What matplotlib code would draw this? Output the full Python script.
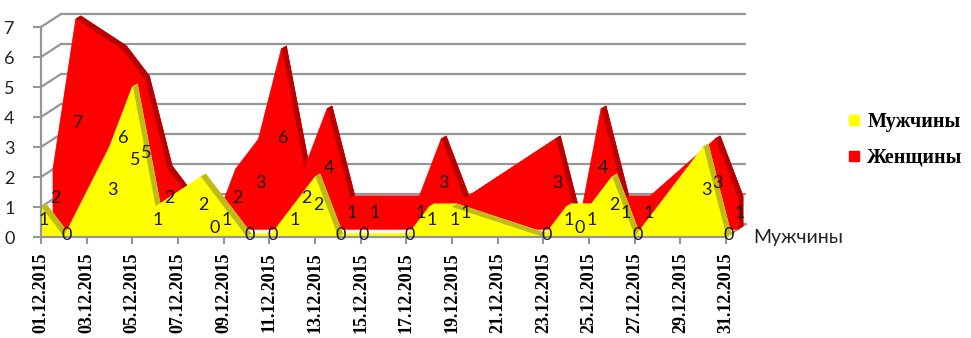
import matplotlib
matplotlib.use("Agg")
import matplotlib.pyplot as plt
from matplotlib.patches import Polygon
from matplotlib.lines import Line2D

# ---------------- data ----------------
dates = ["01.12.2015", "02.12.2015", "04.12.2015", "05.12.2015", "06.12.2015",
         "08.12.2015", "09.12.2015", "10.12.2015", "11.12.2015", "12.12.2015",
         "13.12.2015", "14.12.2015", "15.12.2015", "17.12.2015", "18.12.2015",
         "19.12.2015", "23.12.2015", "24.12.2015", "25.12.2015", "26.12.2015",
         "27.12.2015", "30.12.2015", "31.12.2015"]
men = [1, 0, 3, 5, 1, 2, 1, 0, 0, 1, 2, 0, 0, 0, 1, 1, 0, 1, 1, 2, 0, 3, 0]
women = [2, 7, 6, 5, 2, 0, 2, 3, 6, 2, 4, 1, 1, 1, 3, 1, 3, 0, 4, 1, 1, 3, 1]
tick_labels = ["01.12.2015", "03.12.2015", "05.12.2015", "07.12.2015",
               "09.12.2015", "11.12.2015", "13.12.2015", "15.12.2015",
               "17.12.2015", "19.12.2015", "21.12.2015", "23.12.2015",
               "25.12.2015", "27.12.2015", "29.12.2015", "31.12.2015"]
series_names = ["Мужчины", "Женщины"]
y_ticks = [0, 1, 2, 3, 4, 5, 6, 7]

days = [int(d[:2]) for d in dates]
tick_days = [int(t[:2]) for t in tick_labels]

# ---------------- layout ----------------
W, H = 971, 338
fig = plt.figure(figsize=(W / 100, H / 100), dpi=100)
AX_L, AX_R, AX_T, AX_B = 20, 770, 4, 246
X1_PX, XN_PX = 41, 726
Y0_PX, YTOP_PX = 237, 27
ax = fig.add_axes([AX_L / W, 1 - AX_B / H, (AX_R - AX_L) / W, (AX_B - AX_T) / H])
px_day = (XN_PX - X1_PX) / (days[-1] - days[0])
px_val = (Y0_PX - YTOP_PX) / y_ticks[-1]
ax.set_xlim(days[0] + (AX_L - X1_PX) / px_day, days[0] + (AX_R - X1_PX) / px_day)
ax.set_ylim((Y0_PX - AX_B) / px_val, (Y0_PX - AX_T) / px_val)


def off(p):
    """pixel offset (right, down) -> data offset"""
    return p[0] / px_day, -p[1] / px_val


GRID = "#969696"
YEL, OLIVE = "#FFFF00", "#BDBA1C"
RED, DRED = "#FF0000", "#B80000"

# depth planes (pixels)
Y_FRONT, Y_BACK, Y_CEN = (0, 0), (5, -3), (3, -2)
R_FRONT, R_BACK, R_CEN = (12, -8), (17, -11), (14, -9)
WALL = (20, -13)

# ---------------- walls / grid ----------------
wx, wy = off(WALL)
x0, x1 = days[0], days[-1]
for v in y_ticks:
    ax.plot([x0 + wx, x1 + wx], [v + wy, v + wy], color=GRID, lw=1.6, zorder=1,
            solid_capstyle="butt")
    ax.plot([x0, x0 + wx], [v, v + wy], color=GRID, lw=1.6, zorder=1)
ax.plot([x1, x1 + wx], [0, wy], color=GRID, lw=1.4, zorder=1)


def slab(xs, ys, front_px, back_px, color, dark, z):
    fx, fy = off(front_px)
    bx, by = off(back_px)
    prof = [(xs[0], 0)] + list(zip(xs, ys)) + [(xs[-1], 0)]
    ax.add_patch(Polygon([(x + bx, y + by) for x, y in prof], closed=True,
                         fc=color, ec=color, lw=0.5, zorder=z))
    segs = list(zip(prof[:-1], prof[1:]))
    for (xa, ya), (xb, yb) in segs:
        c = dark if yb < ya else color
        quad = [(xa + fx, ya + fy), (xb + fx, yb + fy), (xb + bx, yb + by), (xa + bx, ya + by)]
        ax.add_patch(Polygon(quad, closed=True, fc=c, ec=c, lw=0.5, zorder=z + 0.1))
    ax.fill_between([x + fx for x in xs], fy, [y + fy for y in ys],
                    color=color, lw=0.3, zorder=z + 0.2)


slab(days, women, R_FRONT, R_BACK, RED, DRED, 2)
slab(days, men, Y_FRONT, Y_BACK, YEL, OLIVE, 3)

# data labels
lbl_font = dict(fontfamily="Lato", fontsize=13, color="#1a1a1a", ha="center", va="center", zorder=8)
cx, cy = off(R_CEN)
for d, v in zip(days, women):
    ax.text(d + cx, v / 2 + cy, str(v), **lbl_font)
cx, cy = off(Y_CEN)
for d, v in zip(days, men):
    ax.text(d + cx, v / 2 + cy, str(v), **lbl_font)

# ---------------- axes ----------------
for s in ["top", "right"]:
    ax.spines[s].set_visible(False)
ax.spines["left"].set_position(("data", x0))
ax.spines["left"].set_bounds(y_ticks[0], y_ticks[-1])
ax.spines["bottom"].set_position(("data", 0))
ax.spines["bottom"].set_bounds(x0, x1)
for s in ["left", "bottom"]:
    ax.spines[s].set_color(GRID)
    ax.spines[s].set_linewidth(1.6)
    ax.spines[s].set_zorder(6)

ax.set_yticks(y_ticks)
ax.set_yticklabels([str(v) for v in y_ticks], fontfamily="Lato", fontsize=13, color="#222222")
ax.set_xticks(tick_days)
ax.set_xticklabels(tick_labels, rotation=90, fontfamily="Liberation Serif",
                   fontweight="bold", fontsize=13, color="black")
ax.tick_params(axis="y", length=6, width=1.5, color=GRID, pad=13)
ax.tick_params(axis="x", length=5, width=1.5, color=GRID, pad=6)
ax.set_facecolor("none")

# depth axis label
ax.text(x1 + wx + 0.3, 0, series_names[0], fontfamily="Lato", fontsize=14,
        color="#222222", ha="left", va="center", clip_on=False)

# legend
handles = [Line2D([], [], marker="s", ls="", color=YEL, markersize=7),
           Line2D([], [], marker="s", ls="", color=RED, markersize=7)]
fig.legend(handles, series_names, loc="center left", bbox_to_anchor=(838 / W, 1 - 140 / H),
           frameon=False, prop=dict(family="Liberation Serif", weight="bold", size=14.5),
           labelspacing=0.75, handlelength=0.6, handletextpad=0.35, borderpad=0)

fig.savefig("out.png", dpi=100, facecolor="white")
